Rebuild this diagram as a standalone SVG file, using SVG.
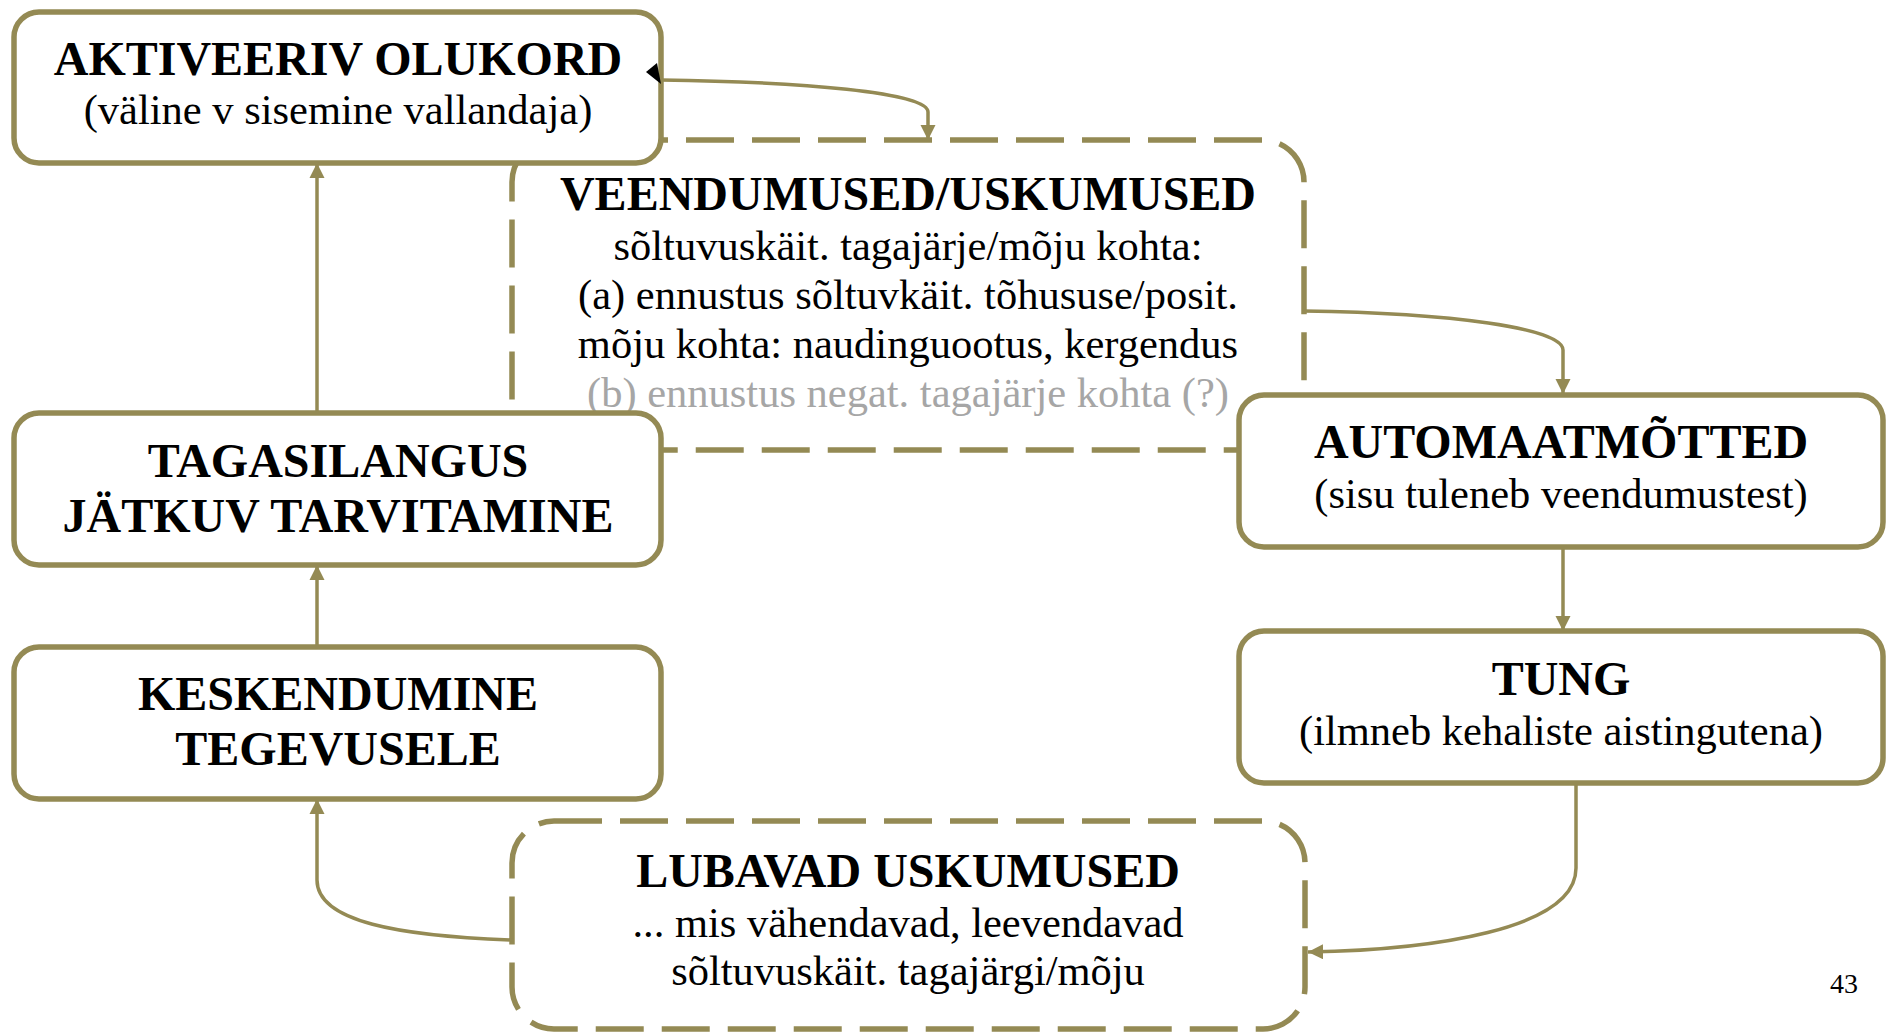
<svg xmlns="http://www.w3.org/2000/svg" width="1889" height="1032" viewBox="0 0 1889 1032">
  <style>
    .box { fill: #ffffff; stroke: #948a54; stroke-width: 5.5; }
    .dbox { fill: #ffffff; stroke: #948a54; stroke-width: 5.5; stroke-dasharray: 48 18; }
    .conn { fill: none; stroke: #948a54; stroke-width: 3.5; }
    .t { font-family: "Liberation Serif", "Times New Roman", serif; fill: #000000; text-anchor: middle; }
    .b { font-weight: bold; font-size: 48px; }
    .r { font-size: 42.5px; }
    .g { fill: #a6a6a6; }
  </style>
  <defs>
    <marker id="arr" viewBox="0 0 10 10" refX="10" refY="5" markerWidth="4.3" markerHeight="4.3" markerUnits="strokeWidth" orient="auto">
      <path d="M0,0 L10,5 L0,10 Z" fill="#948a54"/>
    </marker>
  </defs>
  <rect width="1889" height="1032" fill="#ffffff"/>

  <g id="node-veendumused">
    <rect class="dbox" x="512" y="140" width="792" height="310" rx="42" ry="42"/>
    <text class="t b" x="908" y="210">VEENDUMUSED/USKUMUSED</text>
    <text class="t r" x="908" y="260">sõltuvuskäit. tagajärje/mõju kohta:</text>
    <text class="t r" x="908" y="309">(a) ennustus sõltuvkäit. tõhususe/posit.</text>
    <text class="t r" x="908" y="358">mõju kohta: naudinguootus, kergendus</text>
    <text class="t r g" x="908" y="407">(b) ennustus negat. tagajärje kohta (?)</text>
  </g>

  <g id="node-lubavad">
    <rect class="dbox" x="512" y="821" width="793" height="208" rx="42" ry="42"/>
    <text class="t b" x="908" y="887">LUBAVAD USKUMUSED</text>
    <text class="t r" x="908" y="937">... mis vähendavad, leevendavad</text>
    <text class="t r" x="908" y="985">sõltuvuskäit. tagajärgi/mõju</text>
  </g>

  <g id="node-aktiveeriv">
    <rect class="box" x="14" y="12" width="647" height="151" rx="25" ry="25"/>
    <text class="t b" x="338" y="75">AKTIVEERIV OLUKORD</text>
    <text class="t r" x="338" y="124">(väline v sisemine vallandaja)</text>
  </g>

  <g id="node-tagasilangus">
    <rect class="box" x="14" y="413" width="647" height="152" rx="25" ry="25"/>
    <text class="t b" x="338" y="477">TAGASILANGUS</text>
    <text class="t b" x="338" y="532">JÄTKUV TARVITAMINE</text>
  </g>

  <g id="node-keskendumine">
    <rect class="box" x="14" y="647" width="647" height="152" rx="25" ry="25"/>
    <text class="t b" x="338" y="710">KESKENDUMINE</text>
    <text class="t b" x="338" y="765">TEGEVUSELE</text>
  </g>

  <g id="node-automaatmotted">
    <rect class="box" x="1239" y="395" width="644" height="152" rx="25" ry="25"/>
    <text class="t b" x="1561" y="458">AUTOMAATMÕTTED</text>
    <text class="t r" x="1561" y="508">(sisu tuleneb veendumustest)</text>
  </g>

  <g id="node-tung">
    <rect class="box" x="1239" y="631" width="644" height="152" rx="25" ry="25"/>
    <text class="t b" x="1561" y="695">TUNG</text>
    <text class="t r" x="1561" y="745">(ilmneb kehaliste aistingutena)</text>
  </g>

  <g id="connectors">
    <path class="conn" d="M661,80 C800,82 928,92 928,112 L928,140" marker-end="url(#arr)"/>
    <polygon points="646,72 657,63 661,84" fill="#000000"/>
    <path class="conn" d="M1304,311 C1450,313 1563,328 1563,350 L1563,394" marker-end="url(#arr)"/>
    <path class="conn" d="M1563,548 L1563,631" marker-end="url(#arr)"/>
    <path class="conn" d="M1576,783 L1576,868 C1576,930 1430,950 1308,952" marker-end="url(#arr)"/>
    <path class="conn" d="M512,940 C400,936 317,922 317,880 L317,799" marker-end="url(#arr)"/>
    <path class="conn" d="M317,647 L317,565" marker-end="url(#arr)"/>
    <path class="conn" d="M317,413 L317,163" marker-end="url(#arr)"/>
  </g>

  <text class="t" x="1830" y="993" style="text-anchor:start;font-size:28px">43</text>
</svg>
